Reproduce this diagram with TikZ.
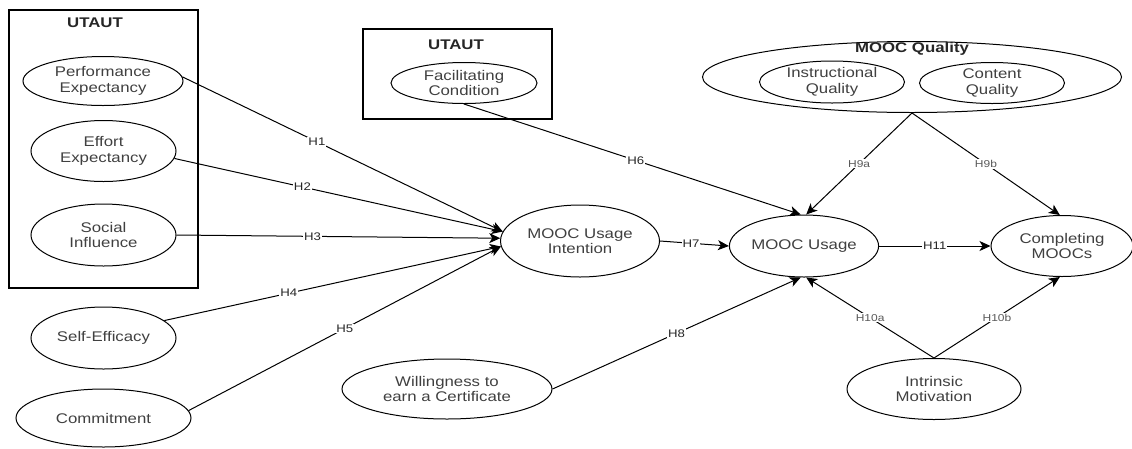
\documentclass[tikz,border=0pt]{standalone}
\usepackage{fontspec}
\setmainfont[FakeStretch=1.2]{Liberation Sans}
\usetikzlibrary{shapes.geometric,arrows.meta}
\begin{document}
\begin{tikzpicture}[x=1pt,y=-1pt,
  construct/.style={ellipse,draw,line width=1pt,inner sep=0pt,align=center,font=\fontsize{14}{15.5}\selectfont,text=black!75},
  frame/.style={draw,line width=1.1pt,inner sep=0pt},
  title/.style={font=\bfseries\fontsize{14}{16}\selectfont,text=black!85},
  hyp/.style={draw,line width=1pt,-{Stealth[length=11pt,width=10pt,inset=3pt]}},
  lab/.style={fill=white,inner sep=1pt,font=\fontsize{11}{12}\selectfont,text=black!85},
  slab/.style={lab,font=\fontsize{10}{11}\selectfont,text=black!65}]
\useasboundingbox (0,0) rectangle (1132,448);
\fill[white] (0,0) rectangle (1132,448);
% frames
\node[frame,minimum width=189pt,minimum height=278pt] (box1) at (103.5,149) {};
\node[frame,minimum width=189pt,minimum height=90pt] (box2) at (457.5,74) {};
\node[title] (t1) at (95,23) {UTAUT};
\node[title] (t2) at (456,45) {UTAUT};
% constructs
\node[construct,minimum width=160pt,minimum height=49pt] (pe) at (103,81) {Performance\\Expectancy};
\node[construct,minimum width=145pt,minimum height=61pt] (ee) at (103.5,151) {Effort\\Expectancy};
\node[construct,minimum width=145pt,minimum height=62pt] (si) at (103.5,235) {Social\\Influence};
\node[construct,minimum width=145pt,minimum height=62pt] (se) at (103.5,338) {Self-Efficacy};
\node[construct,minimum width=175pt,minimum height=58pt] (cmt) at (103.5,418) {Commitment};
\node[construct,minimum width=146pt,minimum height=41pt] (fc) at (464,83) {Facilitating\\Condition};
\node[construct,minimum width=159pt,minimum height=72pt] (mui) at (580,241) {MOOC Usage\\Intention};
\node[construct,minimum width=146pt,minimum height=62pt] (mu) at (804,246) {MOOC Usage};
\node[construct,minimum width=142pt,minimum height=61pt] (comp) at (1062,246) {Completing\\MOOCs};
\node[construct,minimum width=419pt,minimum height=71pt] (mq) at (912,77) {};
\node[title] (tq) at (912,49) {MOOC Quality};
\node[construct,minimum width=145pt,minimum height=42pt] (iq) at (832,82) {Instructional\\Quality};
\node[construct,minimum width=145pt,minimum height=41pt] (cq) at (992,83) {Content\\Quality};
\node[construct,minimum width=174pt,minimum height=61pt] (im) at (934,389) {Intrinsic\\Motivation};
\node[construct,minimum width=210pt,minimum height=60pt] (wc) at (447,389) {Willingness to\\earn a Certificate};
% hypotheses
\draw[hyp] (pe.3) -- node[lab,pos=0.42]{H1} (mui.173);
\draw[hyp] (ee.-6) -- node[lab,pos=0.39]{H2} (mui.173);
\draw[hyp] (si.east) -- node[lab,pos=0.42]{H3} (mui.178);
\draw[hyp] (se.16) -- node[lab,pos=0.37]{H4} (mui.184);
\draw[hyp] (cmt.5) -- node[lab,pos=0.5]{H5} (mui.184);
\draw[hyp] (fc.south) -- node[lab,pos=0.51]{H6} (mu.96);
\draw[hyp] (mui.east) -- node[lab,pos=0.45]{H7} (mu.west);
\draw[hyp] (wc.east) -- node[lab]{H8} (mu.-96);
\draw[hyp] (mq.south) -- node[slab]{H9a} (mu.86);
\draw[hyp] (mq.south) -- node[slab]{H9b} (comp.94);
\draw[hyp] (im.north) -- node[slab]{H10a} (mu.-86);
\draw[hyp] (im.north) -- node[slab]{H10b} (comp.-94);
\draw[hyp] (mu.east) -- node[lab]{H11} (comp.west);
\end{tikzpicture}
\end{document}
